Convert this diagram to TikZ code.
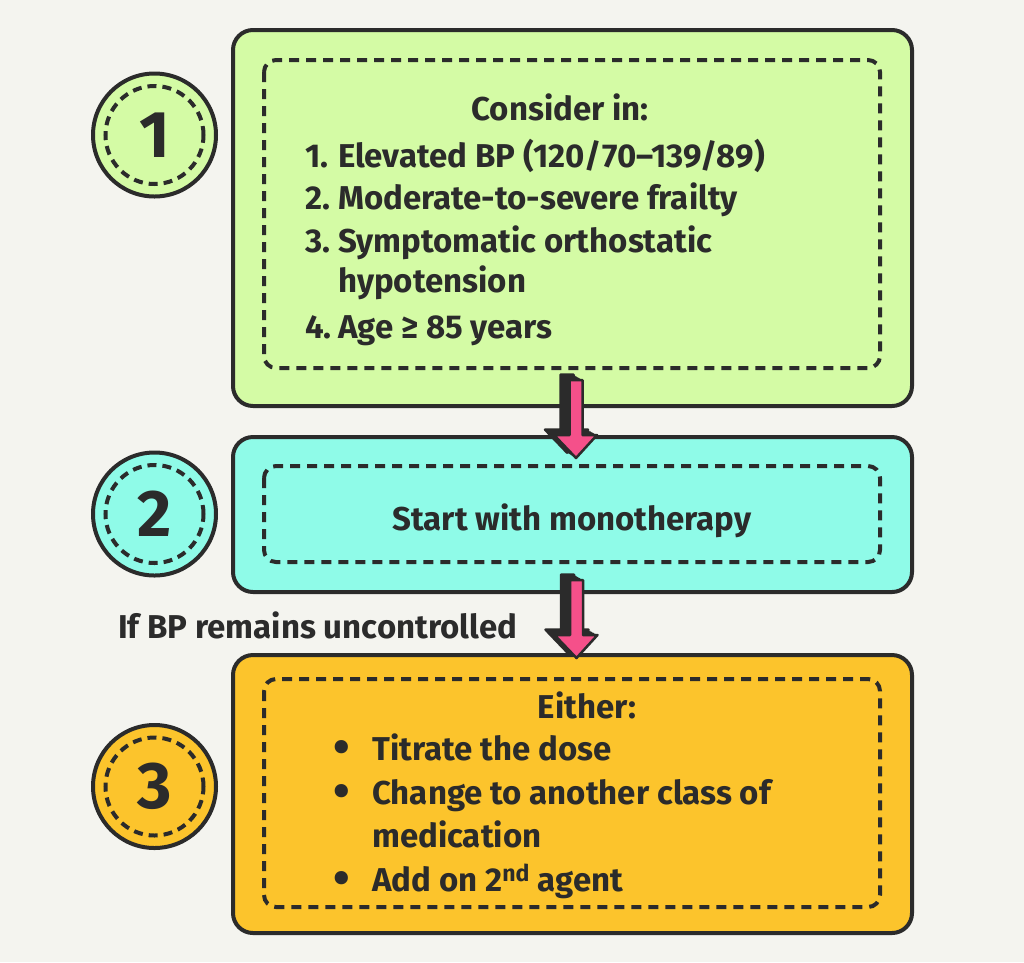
\documentclass[tikz,border=0pt]{standalone}
\usepackage{fontspec}
\setmainfont{Fira Sans}
\usetikzlibrary{calc}
\definecolor{bg}{HTML}{F4F4EF}
\definecolor{ink}{HTML}{2B2B2B}
\definecolor{cgreen}{HTML}{D4FBA5}
\definecolor{ccyan}{HTML}{8FFBE8}
\definecolor{cyellow}{HTML}{FCC42C}
\definecolor{cpink}{HTML}{F5508A}
\newcommand\arrowpath[2]{({\x2-6.5pt+#1},{\y1+#2}) -- ({\x2+6.5pt+#1},{\y1+#2}) -- ({\x2+6.5pt+#1},{\y2+23pt+#2}) -- ({\x2+21pt+#1},{\y2+23pt+#2}) -- ({\x2+#1},{\y2+#2}) -- ({\x2-22pt+#1},{\y2+23pt+#2}) -- ({\x2-6.5pt+#1},{\y2+23pt+#2}) -- cycle}
\newcommand\fatarrow[2]{%
  \foreach \t in {0,1,...,9}{\fill[ink] let \p1=(#1),\p2=(#2) in \arrowpath{-\t pt}{0.6*\t pt};}
  \draw[ink,line width=2.5pt,line join=round] let \p1=(#1),\p2=(#2) in \arrowpath{-9pt}{5.4pt};
  \draw[ink,fill=cpink,line width=2.5pt,line join=round] let \p1=(#1),\p2=(#2) in \arrowpath{0pt}{0pt};}
\newcommand\bul{\makebox[39pt][l]{\raisebox{-3pt}{\scalebox{1.45}{•}}}}
\tikzset{
  box/.style={draw=ink, line width=4pt, rounded corners=20pt, inner sep=0},
  innerbox/.style={draw=ink, line width=4pt, dash pattern=on 10pt off 7pt, rounded corners=12pt},
  badge/.style={circle, draw=ink, line width=4pt, minimum size=123pt, inner sep=0},
  badgering/.style={draw=ink, line width=4pt, dash pattern=on 9pt off 6pt},
  num/.style={font=\bfseries\fontsize{66}{70}\selectfont, text=ink, inner sep=0},
  txt/.style={font=\bfseries\fontsize{33}{40}\selectfont, text=ink, inner sep=0},
}
\begin{document}
\begin{tikzpicture}[x=1pt,y=-1pt]
\fill[bg] (0,0) rectangle (1024,962);
\useasboundingbox (0,0) rectangle (1024,962);
% boxes
\node[box, fill=cgreen, minimum width=679pt, minimum height=376pt] (box1) at (572.5,218) {};
\node[box, fill=ccyan, minimum width=679pt, minimum height=155pt] (box2) at (572.5,514.5) {};
\node[box, fill=cyellow, minimum width=679pt, minimum height=278pt] (box3) at (572.5,794) {};
\draw[innerbox] ($(box1.north west)+(33,32)$) rectangle ($(box1.south east)+(-34,-40)$);
\draw[innerbox] ($(box2.north west)+(33,31)$) rectangle ($(box2.south east)+(-34,-32)$);
\draw[innerbox] ($(box3.north west)+(33,26)$) rectangle ($(box3.south east)+(-34,-28)$);
% badges
\node[badge, fill=cgreen] (c1) at (154.5,135) {};
\node[badge, fill=ccyan] (c2) at (154.5,514) {};
\node[badge, fill=cyellow] (c3) at (154.5,786.5) {};
\foreach \c in {c1,c2,c3} \draw[badgering] (\c) circle[radius=49pt];
\node[num] (n1) at (c1) {1};
\node[num] (n2) at (c2) {2};
\node[num] (n3) at (c3) {3};
% arrows
\coordinate (a1s) at ($(box1.south)+(3.5,-28)$);
\coordinate (a1e) at ($(box2.north)+(3.5,23)$);
\coordinate (a2s) at ($(box2.south)+(3.5,-14)$);
\coordinate (a2e) at ($(box3.north)+(4,5)$);
\fatarrow{a1s}{a1e}
\fatarrow{a2s}{a2e}
% texts box 1
\node[txt, anchor=base] (t0) at (560,120) {Consider in:};
\node[txt, anchor=base west] (t1) at (305,167) {\makebox[33pt][l]{1.}Elevated BP (120/70–139/89)};
\node[txt, anchor=base west] (t2) at (305,209) {\makebox[33pt][l]{2.}Moderate-to-severe frailty};
\node[txt, anchor=base west] (t3) at (305,252) {\makebox[33pt][l]{3.}Symptomatic orthostatic};
\node[txt, anchor=base west] (t3b) at (338,292) {hypotension};
\node[txt, anchor=base west] (t4) at (305,338) {\makebox[33pt][l]{4.}Age ≥ 85 years};
% box 2
\node[txt, anchor=base] (s0) at (572,530) {Start with monotherapy};
% between
\node[txt, anchor=base west] (ifbp) at (118,638) {If BP remains uncontrolled};
% box 3
\node[txt, anchor=base] (e0) at (587,718) {Either:};
\node[txt, anchor=base west] (e1) at (333,760) {\bul Titrate the dose};
\node[txt, anchor=base west] (e2) at (333,804) {\bul Change to another class of};
\node[txt, anchor=base west] (e2b) at (372,847) {medication};
\node[txt, anchor=base west] (e3) at (333,891) {\bul Add on 2\textsuperscript{nd} agent};
\end{tikzpicture}
\end{document}
